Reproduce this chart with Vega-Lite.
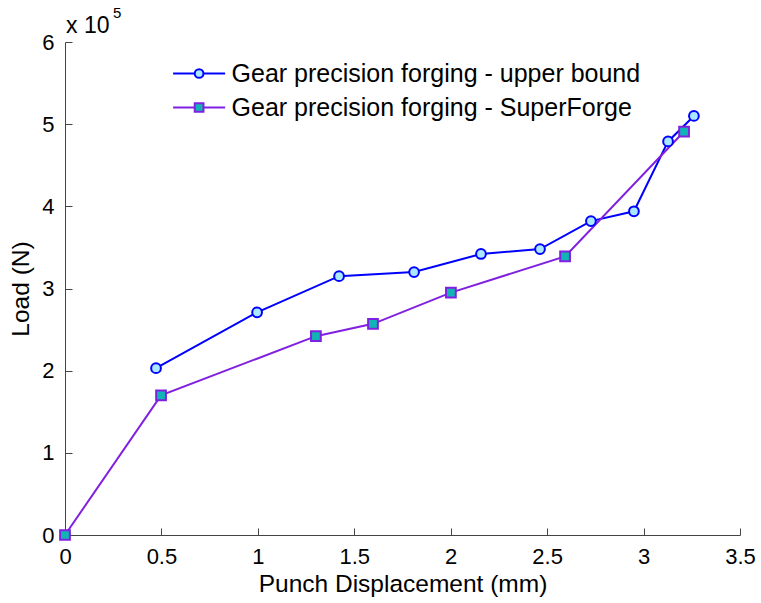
{
  "$schema": "https://vega.github.io/schema/vega-lite/v6.json",
  "width": 675,
  "height": 493,
  "autosize": {"type": "none"},
  "padding": {"left": 65, "top": 42, "right": 21, "bottom": 68},
  "background": "white",
  "config": {
    "view": {"stroke": null},
    "font": "Liberation Sans",
    "circle": {"size": 95},
    "square": {"size": 95},
    "axis": {
      "domainColor": "#444444",
      "tickColor": "#444444",
      "tickSize": -7,
      "grid": false,
      "labelFont": "Liberation Sans",
      "labelFontSize": 22,
      "labelColor": "black",
      "titleFont": "Liberation Sans",
      "titleFontSize": 24.5,
      "titleFontWeight": "normal",
      "titleColor": "black"
    },
    "legend": {
      "title": null,
      "orient": "none",
      "padding": 0,
      "symbolSize": 433,
      "symbolStrokeWidth": 2,
      "labelFontSize": 25,
      "labelFont": "Liberation Sans",
      "labelColor": "black",
      "labelOffset": 20,
      "labelLimit": 600
    }
  },
  "datasets": {
    "curves": [
      {"series": "Gear precision forging - upper bound", "d": 0.472, "load": 203000},
      {"series": "Gear precision forging - upper bound", "d": 0.996, "load": 271000},
      {"series": "Gear precision forging - upper bound", "d": 1.421, "load": 315000},
      {"series": "Gear precision forging - upper bound", "d": 1.810, "load": 320000},
      {"series": "Gear precision forging - upper bound", "d": 2.157, "load": 342000},
      {"series": "Gear precision forging - upper bound", "d": 2.463, "load": 348000},
      {"series": "Gear precision forging - upper bound", "d": 2.727, "load": 382000},
      {"series": "Gear precision forging - upper bound", "d": 2.950, "load": 394000},
      {"series": "Gear precision forging - upper bound", "d": 3.127, "load": 479000},
      {"series": "Gear precision forging - upper bound", "d": 3.261, "load": 510000},
      {"series": "Gear precision forging - SuperForge", "d": 0.0, "load": 0},
      {"series": "Gear precision forging - SuperForge", "d": 0.498, "load": 170000},
      {"series": "Gear precision forging - SuperForge", "d": 1.301, "load": 242000},
      {"series": "Gear precision forging - SuperForge", "d": 1.597, "load": 257000},
      {"series": "Gear precision forging - SuperForge", "d": 2.001, "load": 295000},
      {"series": "Gear precision forging - SuperForge", "d": 2.593, "load": 339000},
      {"series": "Gear precision forging - SuperForge", "d": 3.210, "load": 491000}
    ],
    "note": [{"d": 0, "load": 600000}]
  },
  "layer": [
    {
      "data": {"name": "curves"},
      "mark": {"type": "line", "strokeWidth": 2},
      "encoding": {
        "x": {
          "field": "d", "type": "quantitative",
          "scale": {"domain": [0, 3.5], "nice": false},
          "axis": {"values": [0, 0.5, 1, 1.5, 2, 2.5, 3, 3.5], "labelExpr": "datum.value", "title": "Punch Displacement (mm)", "labelPadding": 18, "titlePadding": 5, "labelFlush": false}
        },
        "y": {
          "field": "load", "type": "quantitative",
          "scale": {"domain": [0, 600000], "nice": false},
          "axis": {"values": [0, 100000, 200000, 300000, 400000, 500000, 600000], "labelExpr": "datum.value / 100000", "title": "Load (N)", "labelPadding": 18, "titlePadding": 8, "labelFlush": false}
        },
        "stroke": {
          "field": "series", "type": "nominal",
          "scale": {"domain": ["Gear precision forging - upper bound", "Gear precision forging - SuperForge"], "range": ["#0000ff", "#8020e0"]},
          "legend": null
        }
      }
    },
    {
      "data": {"name": "curves"},
      "transform": [{"filter": "datum.series == 'Gear precision forging - upper bound'"}],
      "mark": {"type": "circle", "filled": true, "fill": "#aae8ff", "stroke": "#0000ff", "strokeWidth": 2, "opacity": 1},
      "encoding": {
        "x": {"field": "d", "type": "quantitative"},
        "y": {"field": "load", "type": "quantitative"},
        "opacity": {
          "field": "series", "type": "nominal",
          "scale": {"domain": ["Gear precision forging - upper bound"], "range": [1]},
          "legend": {
            "legendX": 121.6,
            "legendY": 19,
            "symbolType": "M-2.5,0H-0.42A0.42,0.42 0 1,1 0.42,0A0.42,0.42 0 1,1 -0.42,0M0.42,0H2.5"
          }
        }
      }
    },
    {
      "data": {"name": "curves"},
      "transform": [{"filter": "datum.series == 'Gear precision forging - SuperForge'"}],
      "mark": {"type": "square", "filled": true, "fill": "#10b4b4", "stroke": "#8020e0", "strokeWidth": 2, "opacity": 1},
      "encoding": {
        "x": {"field": "d", "type": "quantitative"},
        "y": {"field": "load", "type": "quantitative"},
        "strokeDash": {
          "field": "series", "type": "nominal",
          "scale": {"domain": ["Gear precision forging - SuperForge"], "range": [[1, 0]]},
          "legend": {
            "legendX": 121.6,
            "legendY": 53,
            "symbolType": "M-2.5,0H-0.42V-0.42H0.42V0.42H-0.42V0M0.42,0H2.5"
          }
        }
      }
    },
    {
      "data": {"name": "note"},
      "mark": {"type": "text", "text": "x 10", "align": "left", "baseline": "alphabetic", "dx": 1, "dy": -9, "fontSize": 23, "font": "Liberation Sans", "color": "black"},
      "encoding": {
        "x": {"field": "d", "type": "quantitative"},
        "y": {"field": "load", "type": "quantitative"}
      }
    },
    {
      "data": {"name": "note"},
      "mark": {"type": "text", "text": "5", "align": "left", "baseline": "alphabetic", "dx": 48, "dy": -24, "fontSize": 15, "font": "Liberation Sans", "color": "black"},
      "encoding": {
        "x": {"field": "d", "type": "quantitative"},
        "y": {"field": "load", "type": "quantitative"}
      }
    }
  ]
}
